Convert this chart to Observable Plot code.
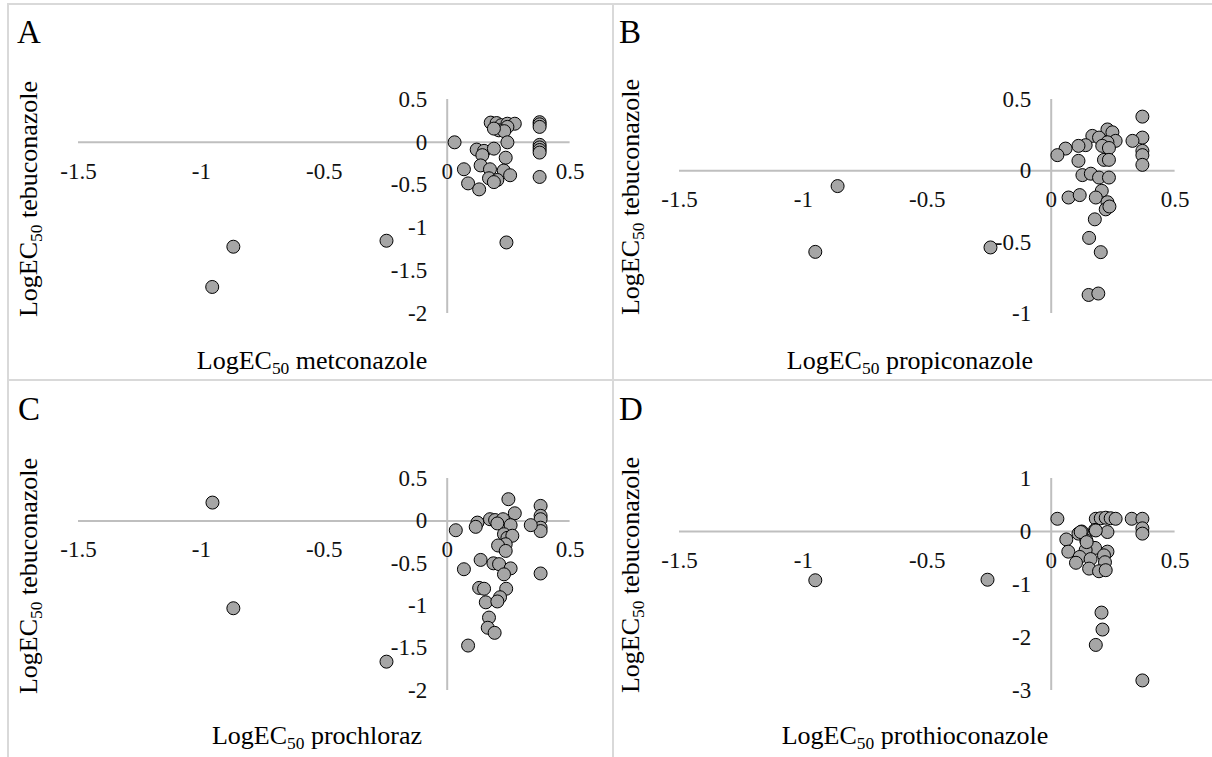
<!DOCTYPE html>
<html>
<head>
<meta charset="utf-8">
<script src="https://cdn.jsdelivr.net/npm/d3@7"></script>
<script src="https://cdn.jsdelivr.net/npm/@observablehq/plot@0.6"></script>
<style>
html,body{margin:0;padding:0;background:#fff;}
#page{position:relative;width:1212px;height:757px;overflow:hidden;font-family:"Liberation Serif","Times New Roman",serif;color:#000;}
.vline{position:absolute;width:2px;background:#d9d9d9;}
.hline{position:absolute;height:2px;background:#d9d9d9;}
.panel{position:absolute;}
.panel svg{display:block;overflow:visible;}
.panel svg text{font-family:"Liberation Serif","Times New Roman",serif !important;}
.letter{position:absolute;font-size:33px;line-height:1;white-space:nowrap;}
.xt{position:absolute;font-size:26px;line-height:1;white-space:nowrap;transform:translateX(-50%);}
.yt{position:absolute;font-size:26px;line-height:1;white-space:nowrap;transform:translate(-50%,-50%) rotate(-90deg);}
sub{font-size:0.67em;vertical-align:baseline;position:relative;top:0.28em;}
</style>
</head>
<body>
<div id="page">
  <div class="vline" style="left:7px;top:3px;height:754px"></div>
  <div class="vline" style="left:612px;top:3px;height:754px"></div>
  <div class="hline" style="left:7px;top:3px;width:1205px"></div>
  <div class="hline" style="left:7px;top:379px;width:1205px"></div>
</div>
<script>
// ---- shared tick labels ----
const xTicks = [-1.5, -1, -0.5, 0, 0.5];
const yTicksA = [0.5, 0, -0.5, -1, -1.5, -2];
const yTicksB = [0.5, 0, -0.5, -1];
const yTicksC = [0.5, 0, -0.5, -1, -1.5, -2];
const yTicksD = [1, 0, -1, -2, -3];

// ---- Panel A: metconazole vs tebuconazole ----
const metconazole = [-0.956, -0.870, -0.247, 0.241, 0.030, 0.177, 0.201, 0.220, 0.245, 0.275, 0.245, 0.210, 0.232, 0.190, 0.245, 0.376, 0.376, 0.376, 0.376, 0.376, 0.376, 0.376, 0.376, 0.120, 0.150, 0.143, 0.190, 0.238, 0.136, 0.068, 0.174, 0.230, 0.256, 0.170, 0.204, 0.190, 0.085, 0.130];
const tebuconazoleA = [-1.69, -1.22, -1.15, -1.17, 0.00, 0.23, 0.225, 0.20, 0.217, 0.217, 0.18, 0.14, 0.13, 0.16, 0.00, 0.235, 0.21, 0.18, -0.03, -0.06, -0.09, -0.12, -0.405, -0.085, -0.10, -0.15, -0.074, -0.18, -0.27, -0.315, -0.315, -0.33, -0.385, -0.42, -0.44, -0.465, -0.48, -0.55];

// ---- Panel B: propiconazole vs tebuconazole ----
const propiconazole = [0.368, 0.368, 0.328, 0.368, 0.368, 0.368, 0.227, 0.247, 0.166, 0.193, 0.260, 0.227, 0.206, 0.233, 0.139, 0.110, 0.058, 0.025, 0.213, 0.233, 0.110, 0.126, 0.160, 0.193, 0.233, 0.204, 0.070, 0.115, 0.180, 0.227, 0.220, 0.235, 0.176, 0.153, 0.200, 0.151, 0.190, -0.862, -0.952, -0.245];
const tebuconazoleB = [0.38, 0.233, 0.21, 0.14, 0.11, 0.042, 0.29, 0.27, 0.245, 0.233, 0.21, 0.20, 0.175, 0.16, 0.18, 0.175, 0.156, 0.11, 0.077, 0.077, 0.07, -0.03, -0.02, -0.047, -0.047, -0.14, -0.187, -0.17, -0.187, -0.22, -0.27, -0.25, -0.34, -0.47, -0.57, -0.87, -0.86, -0.107, -0.568, -0.537];

// ---- Panel C: prochloraz vs tebuconazole ----
const prochloraz = [0.249, 0.275, 0.380, 0.380, 0.380, 0.380, 0.380, 0.340, 0.380, 0.035, 0.123, 0.116, 0.174, 0.195, 0.227, 0.204, 0.258, 0.231, 0.245, 0.265, 0.238, 0.207, 0.238, 0.136, 0.188, 0.211, 0.258, 0.231, 0.068, 0.130, 0.150, 0.240, 0.157, 0.215, 0.204, 0.170, 0.165, 0.193, 0.085, -0.247, -0.870, -0.955];
const tebuconazoleC = [0.256, 0.09, 0.177, 0.06, 0.02, -0.08, -0.12, -0.05, -0.62, -0.11, -0.02, -0.07, 0.02, 0.01, 0.02, -0.03, -0.05, -0.157, -0.20, -0.175, -0.275, -0.29, -0.354, -0.46, -0.50, -0.51, -0.56, -0.63, -0.57, -0.79, -0.80, -0.80, -0.96, -0.90, -0.95, -1.14, -1.26, -1.32, -1.47, -1.66, -1.03, 0.216];

// ---- Panel D: prothioconazole vs tebuconazole ----
const prothioconazole = [0.025, 0.180, 0.200, 0.220, 0.240, 0.260, 0.325, 0.368, 0.368, 0.368, 0.227, 0.177, 0.123, 0.110, 0.061, 0.142, 0.069, 0.177, 0.139, 0.227, 0.213, 0.115, 0.100, 0.159, 0.217, 0.153, 0.193, 0.220, 0.119, 0.180, 0.143, 0.203, 0.207, 0.180, 0.368, -0.257, -0.952];
const tebuconazoleD = [0.24, 0.24, 0.25, 0.26, 0.25, 0.24, 0.24, 0.24, 0.06, -0.04, -0.01, 0.03, 0.00, -0.04, -0.15, -0.17, -0.38, -0.31, -0.35, -0.38, -0.45, -0.48, -0.59, -0.52, -0.58, -0.70, -0.75, -0.73, -0.01, 0.02, -0.20, -1.53, -1.85, -2.14, -2.81, -0.91, -0.92];

const panels = [
  {letter: "A", xName: "metconazole", xs: metconazole, ys: tebuconazoleA, yTicks: yTicksA,
   left: 0, top: 0, width: 613, height: 380, ml: 78, mr: 43.4, mt: 99, mb: 67,
   letterPos: [17, 16], xt: [312, 348], yt: [29, 199]},
  {letter: "B", xName: "propiconazole", xs: propiconazole, ys: tebuconazoleB, yTicks: yTicksB,
   left: 613, top: 0, width: 599, height: 380, ml: 66, mr: 37.4, mt: 99, mb: 67,
   letterPos: [619, 16], xt: [910, 348], yt: [631, 197]},
  {letter: "C", xName: "prochloraz", xs: prochloraz, ys: tebuconazoleC, yTicks: yTicksC,
   left: 0, top: 380, width: 613, height: 377, ml: 78, mr: 43.4, mt: 98, mb: 67,
   letterPos: [18, 393], xt: [317, 723], yt: [29, 576]},
  {letter: "D", xName: "prothioconazole", xs: prothioconazole, ys: tebuconazoleD, yTicks: yTicksD,
   left: 613, top: 380, width: 599, height: 377, ml: 66, mr: 37.4, mt: 98, mb: 67,
   letterPos: [619, 393], xt: [915, 723], yt: [631, 575]}
];

const page = document.getElementById("page");
const axisColor = "#bfbfbf";
const serif = '"Liberation Serif","Times New Roman",serif';

for (const p of panels) {
  const data = p.xs.map((x, i) => ({x, y: p.ys[i]}));
  const [xa, xb] = d3.extent(xTicks);
  const [ya, yb] = d3.extent(p.yTicks);
  const chart = Plot.plot({
    width: p.width,
    height: p.height,
    marginLeft: p.ml, marginRight: p.mr, marginTop: p.mt, marginBottom: p.mb,
    x: {domain: [xa, xb], axis: null},
    y: {domain: [ya, yb], axis: null},
    style: {background: "transparent", overflow: "visible", color: "#111"},
    marks: [
      Plot.ruleY([0], {x1: () => xa, x2: () => xb, stroke: axisColor, strokeWidth: 2}),
      Plot.ruleX([0], {y1: () => ya, y2: () => yb, stroke: axisColor, strokeWidth: 2}),
      Plot.text(xTicks, {x: d => d, y: () => 0, text: d => String(d), dy: 29, fontSize: 23, fontFamily: serif, textAnchor: "middle"}),
      Plot.text(p.yTicks, {x: () => 0, y: d => d, text: d => String(d), dx: -20, fontSize: 23, fontFamily: serif, textAnchor: "end"}),
      Plot.dot(data, {x: "x", y: "y", r: 6.5, fill: "#a6a6a6", fillOpacity: 1, stroke: "#000", strokeWidth: 1})
    ]
  });
  chart.setAttribute("font-family", serif);
  chart.style.fontFamily = serif;
  chart.querySelectorAll("text").forEach(t => { t.style.fontFamily = serif; });
  const holder = document.createElement("div");
  holder.className = "panel";
  holder.style.left = p.left + "px";
  holder.style.top = p.top + "px";
  holder.appendChild(chart);
  page.appendChild(holder);

  const letter = document.createElement("div");
  letter.className = "letter";
  letter.style.left = p.letterPos[0] + "px";
  letter.style.top = p.letterPos[1] + "px";
  letter.textContent = p.letter;
  page.appendChild(letter);

  const xt = document.createElement("div");
  xt.className = "xt";
  xt.style.left = p.xt[0] + "px";
  xt.style.top = p.xt[1] + "px";
  xt.innerHTML = "LogEC<sub>50</sub> " + p.xName;
  page.appendChild(xt);

  const yt = document.createElement("div");
  yt.className = "yt";
  yt.style.left = p.yt[0] + "px";
  yt.style.top = p.yt[1] + "px";
  yt.innerHTML = "LogEC<sub>50</sub> tebuconazole";
  page.appendChild(yt);
}
</script>
</body>
</html>
